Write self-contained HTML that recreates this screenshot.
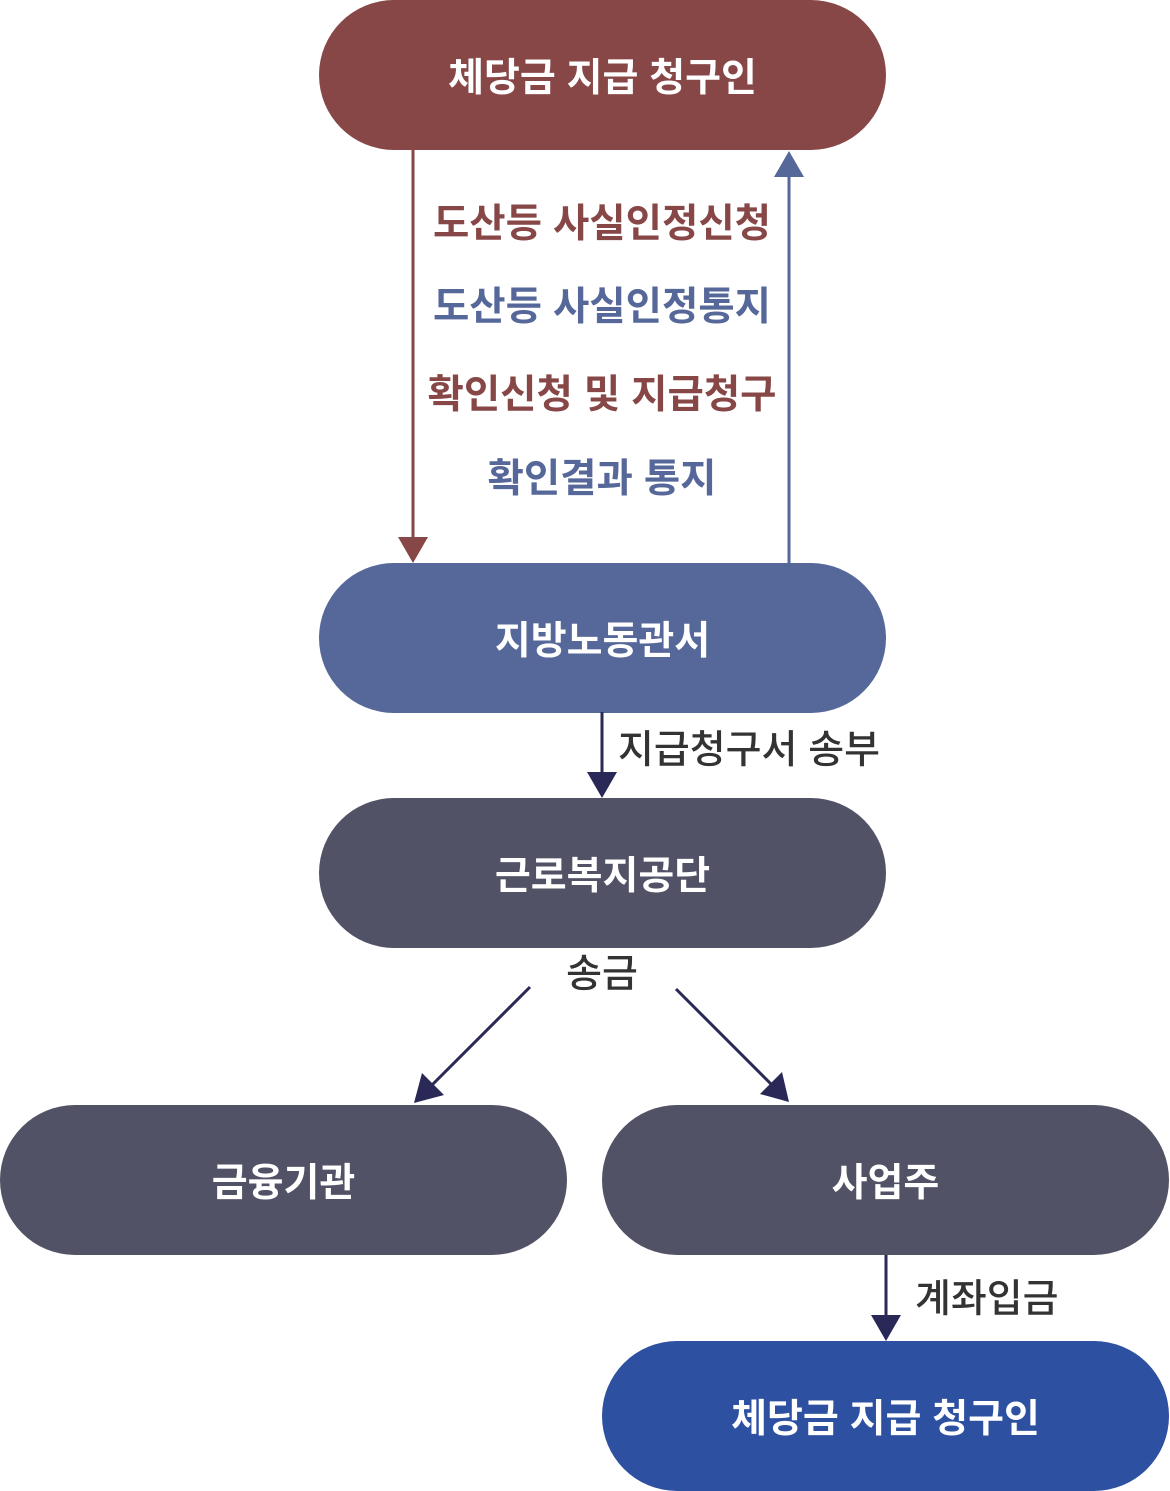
<!DOCTYPE html>
<html><head><meta charset="utf-8"><style>
body{margin:0;width:1170px;height:1491px;background:#fff;position:relative;overflow:hidden;font-family:"Liberation Sans","Noto Sans CJK KR",sans-serif;}
.p{position:absolute;width:567px;height:150px;border-radius:75px;color:#fff;font-size:39px;font-weight:bold;display:flex;align-items:center;justify-content:center;}
.t{position:absolute;font-size:39.5px;font-weight:bold;white-space:nowrap;line-height:1;}
.g{color:#333;font-size:39px;font-weight:500;}
svg{position:absolute;left:0;top:0;}
</style></head><body>
<div class="p" style="left:319px;top:0;background:#874747">체당금 지급 청구인</div>
<div class="p" style="left:319px;top:563px;background:#566799">지방노동관서</div>
<div class="p" style="left:319px;top:798px;background:#525267">근로복지공단</div>
<div class="p" style="left:0;top:1105px;background:#525267">금융기관</div>
<div class="p" style="left:602px;top:1105px;background:#525267">사업주</div>
<div class="p" style="left:602px;top:1341px;background:#2d50a1">체당금 지급 청구인</div>
<svg width="1170" height="1491">
<line x1="413" y1="150" x2="413" y2="540" stroke="#874747" stroke-width="3"/>
<polygon points="398,537 428,537 413,563" fill="#874747"/>
<line x1="789" y1="563" x2="789" y2="175" stroke="#566799" stroke-width="3"/>
<polygon points="774,177 804,177 789,151" fill="#566799"/>
<line x1="602" y1="712" x2="602" y2="775" stroke="#2a2856" stroke-width="3"/>
<polygon points="587,772 617,772 602,798" fill="#2a2856"/>
<line x1="530" y1="987" x2="430" y2="1087" stroke="#2a2856" stroke-width="3"/>
<polygon points="414,1103 422,1073 444,1095" fill="#2a2856"/>
<line x1="676" y1="989" x2="774" y2="1087" stroke="#2a2856" stroke-width="3"/>
<polygon points="789,1102 760,1094 782,1072" fill="#2a2856"/>
<line x1="886" y1="1255" x2="886" y2="1318" stroke="#2a2856" stroke-width="3"/>
<polygon points="871,1315 901,1315 886,1341" fill="#2a2856"/>
</svg>
<div class="t" style="left:0;width:1204px;text-align:center;top:205px;color:#874747">도산등 사실인정신청</div>
<div class="t" style="left:0;width:1204px;text-align:center;top:288px;color:#566799">도산등 사실인정통지</div>
<div class="t" style="left:0;width:1204px;text-align:center;top:376px;color:#874747">확인신청 및 지급청구</div>
<div class="t" style="left:0;width:1204px;text-align:center;top:460px;color:#566799">확인결과 통지</div>
<div class="t g" style="left:618px;top:731px;">지급청구서 송부</div>
<div class="t g" style="left:0;width:1204px;text-align:center;top:955px;">송금</div>
<div class="t g" style="left:915px;top:1280px;">계좌입금</div>
</body></html>
